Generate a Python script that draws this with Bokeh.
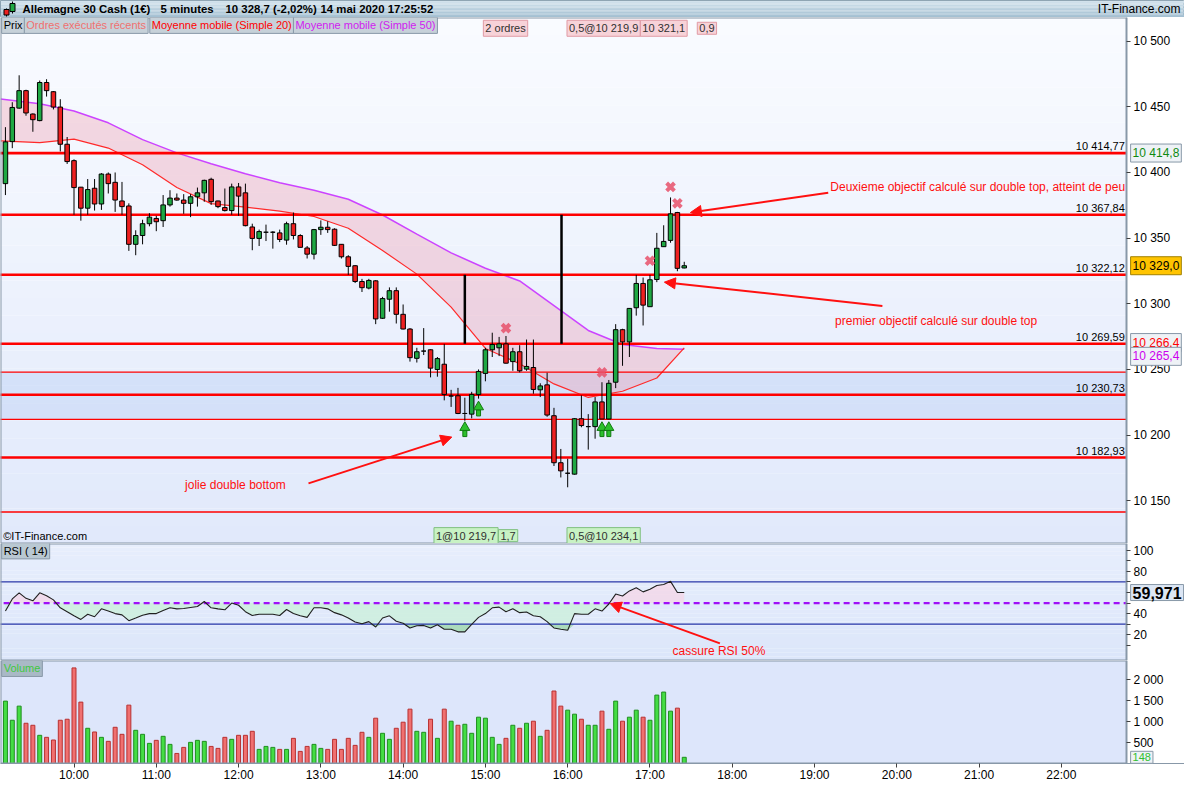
import numpy as np
from bokeh.plotting import figure
from bokeh.models import Range1d, FixedTicker, Label, Arrow, NormalHead, ColumnDataSource
from bokeh.layouts import column
from bokeh.embed import file_html
from bokeh.resources import INLINE
from bokeh.core.properties import value

FONT = "Liberation Sans"

# ---------------- data (5-minute bars, 09:10 -> 17:25) ----------------
opens = [10391.5, 10423.5, 10449.0, 10462.3, 10444.5, 10439.5, 10468.5, 10461.5, 10449.8, 10421.5,
         10409.0, 10388.8, 10372.8, 10388.0, 10376.0, 10398.8, 10392.5, 10378.3, 10374.5, 10345.3,
         10352.0, 10361.0, 10365.0, 10363.3, 10375.3, 10380.5, 10379.0, 10376.5, 10381.5, 10384.5,
         10394.8, 10378.3, 10373.3, 10371.0, 10389.0, 10384.5, 10358.5, 10349.8, 10354.5, 10354.5,
         10354.0, 10348.5, 10361.0, 10352.0, 10342.5, 10337.8, 10356.5, 10358.3, 10356.8, 10345.3,
         10335.8, 10329.0, 10317.0, 10312.0, 10317.5, 10289.0, 10303.5, 10310.0, 10292.0, 10280.8,
         10258.5, 10264.0, 10265.0, 10250.0, 10254.0, 10229.8, 10230.0, 10216.5, 10216.0, 10231.0,
         10247.0, 10265.0, 10266.5, 10269.5, 10256.0, 10263.5, 10250.3, 10251.5, 10234.5, 10238.3,
         10214.8, 10179.0, 10171.0, 10170.3, 10212.5, 10206.5, 10206.5, 10225.3, 10212.3, 10240.3,
         10280.3, 10271.0, 10297.0, 10315.5, 10297.8, 10318.5, 10343.5, 10348.3, 10369.5, 10327.3]
highs = [10434.5, 10453.5, 10474.0, 10463.0, 10445.0, 10470.0, 10471.0, 10462.0, 10455.8, 10427.0,
         10410.0, 10389.0, 10395.0, 10395.0, 10399.5, 10400.0, 10400.0, 10392.8, 10376.5, 10356.0,
         10364.0, 10369.0, 10367.0, 10382.8, 10386.5, 10384.0, 10383.5, 10383.5, 10388.5, 10394.5,
         10396.0, 10378.5, 10387.8, 10391.5, 10392.0, 10391.5, 10361.0, 10356.5, 10360.3, 10355.3,
         10356.5, 10362.5, 10369.5, 10353.0, 10344.0, 10357.0, 10363.5, 10362.8, 10357.5, 10345.5,
         10337.0, 10329.5, 10319.0, 10319.0, 10318.0, 10305.3, 10312.5, 10312.5, 10299.5, 10281.5,
         10266.5, 10281.5, 10265.3, 10259.5, 10269.5, 10234.5, 10236.0, 10228.5, 10233.0, 10250.0,
         10266.5, 10278.0, 10274.8, 10275.5, 10266.5, 10268.5, 10272.8, 10272.8, 10239.5, 10247.5,
         10220.8, 10189.5, 10182.0, 10213.0, 10230.3, 10216.0, 10229.0, 10240.3, 10242.0, 10284.5,
         10281.0, 10296.8, 10322.0, 10320.0, 10322.0, 10354.0, 10359.8, 10381.0, 10370.0, 10332.0]
lows = [10382.8, 10418.5, 10448.5, 10443.2, 10431.0, 10439.0, 10457.8, 10448.0, 10416.0, 10406.5,
        10367.8, 10363.3, 10367.8, 10371.0, 10371.5, 10384.0, 10370.0, 10367.8, 10340.3, 10337.0,
        10345.3, 10359.0, 10355.3, 10358.5, 10374.0, 10378.5, 10368.5, 10366.0, 10374.0, 10377.7,
        10375.3, 10372.8, 10370.3, 10367.8, 10367.0, 10359.0, 10340.8, 10344.0, 10347.8, 10342.0,
        10347.0, 10345.0, 10349.0, 10343.0, 10334.5, 10333.8, 10352.5, 10354.0, 10344.0, 10334.5,
        10322.0, 10315.8, 10309.0, 10311.0, 10284.5, 10288.5, 10294.0, 10285.0, 10280.5, 10256.0,
        10255.3, 10261.0, 10244.0, 10244.5, 10226.5, 10221.5, 10216.0, 10211.0, 10212.8, 10227.8,
        10241.0, 10259.5, 10260.2, 10254.5, 10249.0, 10247.8, 10249.0, 10231.5, 10229.0, 10214.0,
        10176.5, 10167.8, 10160.3, 10170.0, 10206.0, 10189.0, 10197.3, 10212.3, 10212.0, 10235.8,
        10252.8, 10259.5, 10291.0, 10283.5, 10297.8, 10316.5, 10343.5, 10346.5, 10324.8, 10327.0]
closes = [10423.3, 10449.5, 10462.3, 10445.3, 10440.2, 10468.5, 10462.3, 10449.8, 10421.5, 10408.3,
          10388.5, 10372.8, 10387.0, 10376.0, 10398.8, 10391.5, 10379.0, 10374.0, 10345.3, 10352.0,
          10361.0, 10366.0, 10362.5, 10375.3, 10380.5, 10379.0, 10376.5, 10381.5, 10384.5, 10394.0,
          10377.8, 10374.0, 10371.0, 10389.0, 10382.0, 10359.5, 10349.8, 10355.0, 10354.5, 10354.5,
          10349.0, 10361.0, 10352.0, 10343.0, 10337.8, 10356.5, 10358.3, 10356.5, 10344.5, 10335.8,
          10328.5, 10317.0, 10312.3, 10317.8, 10288.5, 10304.0, 10310.0, 10292.0, 10280.8, 10259.0,
          10263.5, 10264.0, 10251.0, 10258.3, 10231.0, 10229.8, 10216.5, 10216.5, 10231.0, 10248.5,
          10265.0, 10269.0, 10269.5, 10254.8, 10263.5, 10249.0, 10252.3, 10234.8, 10237.5, 10215.3,
          10179.0, 10172.8, 10171.0, 10212.5, 10207.3, 10206.5, 10225.3, 10212.3, 10239.5, 10280.3,
          10271.0, 10296.5, 10315.5, 10299.0, 10318.3, 10342.3, 10347.5, 10368.5, 10327.0, 10329.0]
volumes = [1490, 1033, 1370, 961, 913, 673, 625, 561, 1033, 1057,
           2283, 1466, 841, 753, 625, 529, 865, 697, 1394, 793,
           697, 481, 553, 649, 457, 240, 385, 505, 553, 529,
           408, 361, 625, 577, 673, 673, 769, 337, 408, 385,
           337, 337, 601, 289, 408, 457, 361, 337, 577, 337,
           601, 433, 745, 625, 1082, 721, 577, 841, 986, 1298,
           769, 745, 1057, 601, 1298, 1010, 913, 937, 721, 1106,
           1082, 625, 457, 601, 913, 841, 961, 1010, 649, 793,
           1731, 1370, 1274, 1178, 1057, 913, 913, 1250, 817, 1490,
           1010, 1106, 1274, 1106, 1033, 1634, 1706, 1250, 1322, 148]
rsi = [42.4, 53.9, 59.7, 54.5, 52.1, 59.7, 57.0, 53.0, 45.5, 41.8,
       37.9, 34.5, 39.4, 37.0, 44.5, 42.4, 40.0, 38.8, 33.3, 35.8,
       38.5, 40.0, 40.0, 43.0, 45.5, 44.5, 44.8, 45.8, 46.7, 51.5,
       45.5, 44.5, 43.6, 50.0, 47.9, 41.8, 38.2, 39.4, 39.4, 39.4,
       38.2, 43.9, 40.0, 37.9, 36.4, 45.5, 45.5, 44.5, 40.9, 38.8,
       35.8, 32.1, 30.3, 32.4, 27.3, 35.8, 37.9, 32.7, 30.9, 26.4,
       28.5, 28.8, 26.4, 29.4, 25.2, 25.2, 22.7, 22.7, 29.7, 36.4,
       40.0, 45.5, 46.1, 41.8, 44.5, 40.9, 41.5, 37.9, 37.0, 32.4,
       26.4, 25.2, 24.2, 40.0, 39.4, 39.4, 44.5, 42.4, 49.1, 58.5,
       56.7, 61.5, 64.5, 60.6, 63.0, 66.7, 67.6, 70.6, 60.0, 59.971]

ma_idx = [-0.7, 5, 10, 15, 20, 25, 30, 35, 40, 45, 50, 55, 60, 65, 70, 75, 80, 85, 90, 95, 99]
ma20 = [10424.0, 10422.8, 10425.4, 10418.6, 10405.9, 10388.6, 10376.3, 10373.6, 10370.6, 10366.5, 10357.5,
        10340.6, 10322.6, 10297.5, 10266.0, 10254.4, 10239.0, 10228.7, 10233.4, 10243.5, 10266.4]
ma50 = [10456.0, 10452.4, 10446.8, 10437.8, 10425.0, 10414.9, 10406.6, 10399.1, 10392.2, 10386.5, 10379.6,
        10367.6, 10353.0, 10338.8, 10327.1, 10317.4, 10298.6, 10279.7, 10269.0, 10265.9, 10265.4]

levels_thick = [10414.77, 10367.84, 10322.12, 10269.59, 10230.73, 10182.93]
level_labels = ["10 414,77", "10 367,84", "10 322,12", "10 269,59", "10 230,73", "10 182,93"]
levels_thin = [10248.0, 10212.0, 10141.5]
band_lo, band_hi = 10212.0, 10248.0

vl_x = [67.0, 81.1]
vl_y0 = [10269.59, 10269.59]
vl_y1 = [10322.12, 10367.84]

x_mark_i = [73, 87, 94, 97, 98]
x_mark_y = [10281.5, 10247.8, 10332.8, 10389.0, 10376.5]
up_arrow_i = [67, 69, 87, 88]
up_arrow_y = [10203.8, 10219.5, 10203.8, 10203.8]

price_ticks = [10150, 10200, 10250, 10300, 10350, 10400, 10450, 10500]
price_tick_labels = ["10 150", "10 200", "10 250", "10 300", "10 350", "10 400", "10 450", "10 500"]
rsi_ticks = [20, 40, 60, 80, 100]
rsi_tick_labels = ["20", "40", "", "80", "100"]
rsi_minor = [10, 30, 50, 70, 90]
vol_ticks = [500, 1000, 1500, 2000]
vol_tick_labels = ["500", "1 000", "1 500", "2 000"]
time_ticks = [10, 22, 34, 46, 58, 70, 82, 94, 106, 118, 130, 142, 154]
time_labels = ["10:00", "11:00", "12:00", "13:00", "14:00", "15:00", "16:00",
               "17:00", "18:00", "19:00", "20:00", "21:00", "22:00"]

ann_text = ["Deuxieme objectif calculé sur double top, atteint de peu",
            "premier objectif calculé sur double top", "jolie double bottom"]
ann_x = [120.3, 121.0, 26.2]
ann_y = [10389.0, 10287.0, 10161.8]
arr_x0 = [120.0, 127.9, 44.2]
arr_y0 = [10384.5, 10298.3, 10163.3]
arr_x1 = [99.9, 96.1, 65.1]
arr_y1 = [10369.5, 10316.5, 10198.5]
rsi_ann = "cassure RSI 50%"
rsi_ann_xy = (97.3, 4.5)
rsi_arrow = (104.2, 11.8, 88.2, 49.5)

# ---------------- layout ----------------
W = 1184
PLOT_W = 1126                      # width of the chart area, the rest is the price scale
H_HEAD, H_PRICE, H_RSI, H_VOL = 17, 526, 117, 124
X0, X1 = -0.72, 163.5
XF = X0 + W * (X1 - X0) / PLOT_W
xr = Range1d(X0, XF)
GREEN, RED = "#1fa843", "#ee2020"
BORDER = "#8898a8"


def mix(c1, c2, t):
    a = [int(c1[k:k + 2], 16) for k in (1, 3, 5)]
    b = [int(c2[k:k + 2], 16) for k in (1, 3, 5)]
    return "#%02x%02x%02x" % tuple(int(round(a[k] + (b[k] - a[k]) * t)) for k in range(3))


def gradient(fig, lo, hi, c_lo, c_hi, left, right, n=30):
    e = np.linspace(lo, hi, n + 1)
    cols = [mix(c_lo, c_hi, t) for t in np.linspace(0, 1, n)]
    fig.quad(left=left, right=right, bottom=e[:-1], top=e[1:], fill_color=cols, line_color=None)


def make_fig(h, yr, xaxis=False):
    f = figure(width=W, height=h, x_range=xr, y_range=Range1d(*yr), output_backend="svg",
               toolbar_location=None, x_axis_location="below" if xaxis else None,
               y_axis_location="right", min_border_left=0, min_border_right=0,
               min_border_top=0, min_border_bottom=0)
    f.grid.visible = False
    f.outline_line_color = None
    f.border_fill_color = "white"
    f.background_fill_color = "white"
    return f


def finish(fig, yr):
    # white price-scale column and chart-area border
    fig.quad(left=X1, right=XF + 1, bottom=yr[0] - 1000, top=yr[1] + 1000, fill_color="white",
             line_color=None)
    fig.quad(left=X0, right=X1, bottom=yr[0], top=yr[1], fill_color=None, line_color=BORDER,
             line_width=2)
    fig.yaxis[0].fixed_location = X1


def style_axis(ax, ticks, labels, minor=None):
    ax.ticker = FixedTicker(ticks=ticks, minor_ticks=minor or [])
    ax.major_label_overrides = {t: l for t, l in zip(ticks, labels)}
    ax.major_label_text_font = FONT
    ax.major_label_text_font_size = "12px"
    ax.major_label_text_color = "black"
    ax.major_label_standoff = 3
    ax.major_tick_in = 0
    ax.major_tick_out = 4
    ax.minor_tick_in = 0
    ax.minor_tick_out = 4
    ax.major_tick_line_color = "#404040"
    ax.minor_tick_line_color = "#404040"
    ax.axis_line_color = BORDER


def box(fig, x, y, text, color, bg, border=BORDER, size="11px", bold=False):
    fig.add_layout(Label(x=x, y=y, text=text, text_font=FONT, text_font_size=size,
                         text_color=color, text_baseline="middle", text_align="left",
                         text_font_style="bold" if bold else "normal",
                         background_fill_color=bg, border_line_color=border,
                         padding=2))


# ---------------- header ----------------
hd = figure(width=W, height=H_HEAD, x_range=Range1d(0, W), y_range=Range1d(0, H_HEAD),
            output_backend="svg", toolbar_location=None, x_axis_location=None,
            y_axis_location=None, min_border=0)
hd.outline_line_color = "#7890a0"
hd.grid.visible = False
gradient(hd, 0, H_HEAD, "#a4c0d2", "#d2e2ec", 0, W, n=12)
hd.segment(x0=[6, 12], y0=[1, 4], x1=[6, 12], y1=[9, 16], line_color="black", line_width=1)
hd.quad(left=[3.5, 9.5], right=[8.5, 14.5], bottom=[2.5, 6], top=[8, 14],
        fill_color=[RED, GREEN], line_color="black")
head_txt = ["Allemagne 30 Cash (1€)", "5 minutes", "10 328,7 (-2,02%)", "14 mai 2020 17:25:52"]
head_x = [22, 160, 225, 320]
hd.text(x=head_x, y=[8.5] * 4, text=head_txt, text_font=value(FONT), text_font_size="11.4px",
        text_font_style="bold", text_baseline="middle", text_color="black")
hd.text(x=[W - 4], y=[8.5], text=["IT-Finance.com"], text_font=value(FONT), text_font_size="12px",
        text_baseline="middle", text_align="right", text_color="black")

# ---------------- price panel ----------------
PY = (10117.5, 10518.0)
p = make_fig(H_PRICE, PY)
gradient(p, PY[0], PY[1], "#e1e9fb", "#f9fbff", X0 - 2, X1)
p.quad(left=X0 - 2, right=X1, bottom=[band_lo], top=[band_hi], fill_color="#bcd0f6",
       fill_alpha=0.45, line_color=None)

p.varea(x=ma_idx, y1=ma20, y2=ma50, fill_color="#f0a0b4", fill_alpha=0.38)
p.line(ma_idx, ma50, line_color="#cc44ff", line_width=1.5)
p.line(ma_idx, ma20, line_color="#ff2a2a", line_width=1.2)

p.segment(x0=X0 - 1, x1=X1, y0=levels_thin, y1=levels_thin, line_color="#ff0000", line_width=1.3)
p.segment(x0=X0 - 1, x1=X1, y0=levels_thick, y1=levels_thick, line_color="#ff0000", line_width=2.6)

o = np.array(opens); c = np.array(closes)
idx = np.arange(len(opens))
src = ColumnDataSource(dict(x=idx, h=highs, l=lows, top=np.maximum(o, c), bot=np.minimum(o, c),
                            col=[GREEN if cc >= oo else RED for oo, cc in zip(o, c)]))
p.segment(x0="x", y0="h", x1="x", y1="l", line_color="black", line_width=1, source=src)
p.vbar(x="x", width=0.66, top="top", bottom="bot", fill_color="col", line_color="black",
       line_width=1, source=src)

p.segment(x0=vl_x, y0=vl_y0, x1=vl_x, y1=vl_y1, line_color="black", line_width=2.5)

p.scatter(x=x_mark_i, y=x_mark_y, marker="x", size=11, line_width=4, line_color="#e8506a",
          line_alpha=0.85)
ua_y = np.array(up_arrow_y)
p.rect(x=up_arrow_i, y=ua_y - 2.6, width=4, height=6, width_units="screen", height_units="screen",
       fill_color="#2cc02c", line_color="#107a10")
p.scatter(x=up_arrow_i, y=ua_y + 2.0, marker="triangle", size=10, fill_color="#2cc02c",
          line_color="#107a10")

p.text(x=[X1 - 0.25] * len(levels_thick), y=levels_thick, text=level_labels, text_font=value(FONT),
       text_font_size="11px", text_align="right", text_baseline="bottom", y_offset=-1,
       text_color="black")

p.text(x=ann_x, y=ann_y, text=ann_text, text_font=value(FONT), text_font_size="12px",
       text_color="#ff1010", text_baseline="middle")
for a in range(len(arr_x0)):
    p.add_layout(Arrow(end=NormalHead(size=11, fill_color="#ff1010", line_color="#ff1010"),
                       x_start=arr_x0[a], y_start=arr_y0[a], x_end=arr_x1[a], y_end=arr_y1[a],
                       line_color="#ff1010", line_width=2))

p.text(x=[X0 + 0.4], y=[10123.0], text=["©IT-Finance.com"], text_font=value(FONT),
       text_font_size="11px", text_baseline="middle", text_color="black")

finish(p, PY)

# legend row
LEG_Y = 10512.0
box(p, -0.55, LEG_Y, "Prix", "black", "#c6d1d9")
box(p, 2.75, LEG_Y, "Ordres exécutés récents", "#f07070", "#c6d1d9")
box(p, 21.05, LEG_Y, "Moyenne mobile (Simple 20)", "#ff0000", "#c6d1d9")
box(p, 42.0, LEG_Y, "Moyenne mobile (Simple 50)", "#d020f0", "#c6d1d9")

# order tags
box(p, 69.7, 10509.8, "2 ordres", "#303030", "#f7d2d8", "#e09aa4")
box(p, 81.9, 10509.8, "0,5@10 219,9", "#303030", "#f7d2d8", "#e09aa4")
box(p, 92.6, 10509.8, "10 321,1", "#303030", "#f7d2d8", "#e09aa4")
box(p, 100.9, 10509.8, "0,9", "#303030", "#f7d2d8", "#e09aa4")
box(p, 62.5, 10123.5, "1@10 219,7", "#303030", "#c8f2c4", "#80c080")
box(p, 71.9, 10123.5, "1,7", "#303030", "#c8f2c4", "#80c080")
box(p, 81.9, 10123.5, "0,5@10 234,1", "#303030", "#c8f2c4", "#80c080")

# value tags on the price scale
VX = X1 + 0.6
box(p, VX, 10414.8, "10 414,8", "#108a10", "#eef2f6", size="12px")
box(p, VX, 10329.0, "10 329,0", "black", "#ffc400", "#a08000", size="12px")
box(p, VX, 10270.5, "10 266,4", "#ff0000", "#eef2f6", size="12px")
box(p, VX, 10260.0, "10 265,4", "#cc00ee", "#eef2f6", size="12px")

style_axis(p.yaxis[0], price_ticks, price_tick_labels)

# ---------------- RSI panel ----------------
RY = (-4.5, 106.5)
r = make_fig(H_RSI, RY)
gradient(r, RY[0], RY[1], "#dce6fa", "#e7eefc", X0 - 2, X1)
rs = np.array(rsi)
r.varea(x=idx, y1=np.maximum(rs, 50), y2=50, fill_color="#f6d4e6", fill_alpha=0.7)
r.varea(x=idx, y1=np.minimum(rs, 50), y2=50, fill_color="#cdeedd", fill_alpha=0.85)
r.varea(x=idx, y1=np.minimum(rs, 30), y2=30, fill_color="#a6d8b8", fill_alpha=0.9)
r.segment(x0=X0 - 1, x1=X1, y0=[30, 70], y1=[30, 70], line_color="#2836a8", line_width=1.2)
r.segment(x0=X0 - 1, x1=X1, y0=[50], y1=[50], line_color="#a010f8", line_width=2.2,
          line_dash="6 4")
r.line(idx, rs, line_color="#202020", line_width=1.1)
r.text(x=[rsi_ann_xy[0]], y=[rsi_ann_xy[1]], text=[rsi_ann], text_font=value(FONT),
       text_font_size="12px", text_color="#ff1010", text_baseline="middle")
r.add_layout(Arrow(end=NormalHead(size=11, fill_color="#ff1010", line_color="#ff1010"),
                   x_start=rsi_arrow[0], y_start=rsi_arrow[1], x_end=rsi_arrow[2], y_end=rsi_arrow[3],
                   line_color="#ff1010", line_width=2))
finish(r, RY)
box(r, -0.55, 99.5, "RSI ( 14)", "black", "#b9c8d2")
box(r, VX, rsi[-1], "59,971", "black", "#dce6f4", size="16px", bold=True)
style_axis(r.yaxis[0], rsi_ticks, rsi_tick_labels, rsi_minor)

# ---------------- volume panel ----------------
VY = (0, 2460)
v = make_fig(H_VOL, VY, xaxis=True)
v.quad(left=X0 - 2, right=X1, bottom=[VY[0]], top=[VY[1]], fill_color="#dde6fb", line_color=None)
vcol = [("#44dd44" if cc >= oo else "#f07070") for oo, cc in zip(o, c)]
vline = [("#1f8f1f" if cc >= oo else "#b83030") for oo, cc in zip(o, c)]
v.vbar(x=idx, top=volumes, bottom=0, width=0.58, fill_color=vcol, line_color=vline, line_width=1)
finish(v, VY)
box(v, -0.55, 2270, "Volume", "#40c840", "#a9b9c6")
box(v, VX, volumes[-1], "148", "#30c030", "#eef2f6")
style_axis(v.yaxis[0], vol_ticks, vol_tick_labels)
style_axis(v.xaxis[0], time_ticks, time_labels)
v.xaxis[0].major_label_standoff = 0

layout = column(hd, p, r, v, spacing=0)
open("out.html", "w").write(file_html(layout, INLINE))
